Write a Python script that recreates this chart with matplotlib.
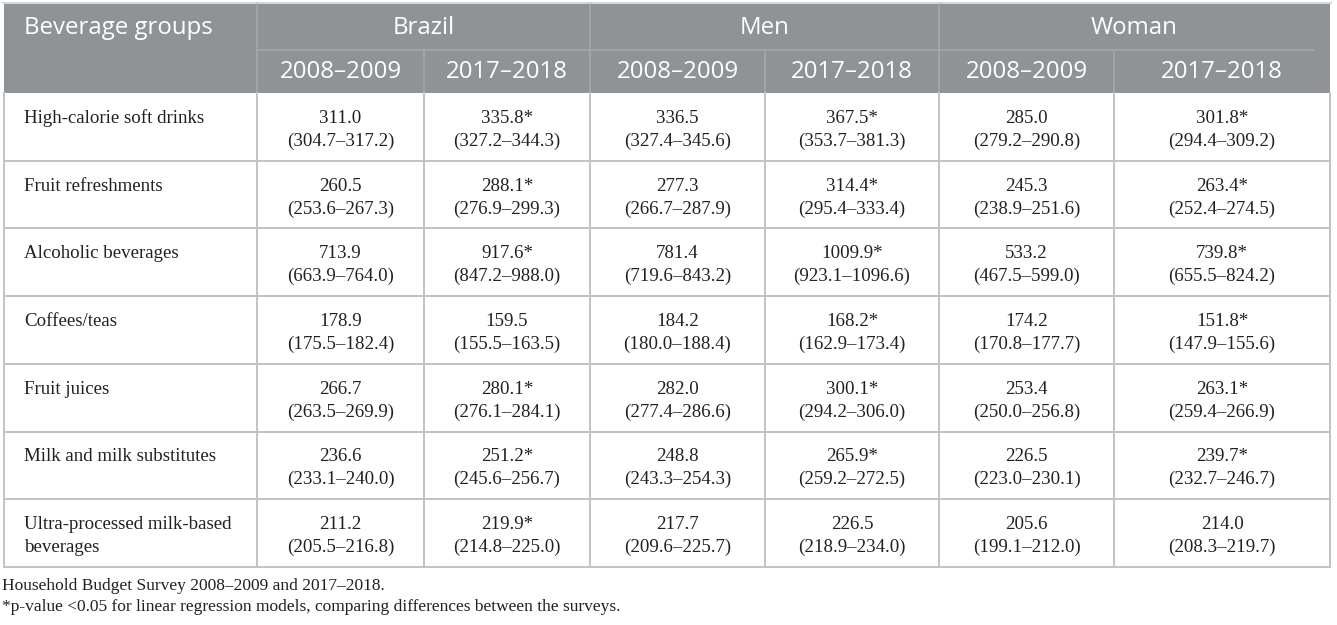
import matplotlib.pyplot as plt
from matplotlib.patches import Rectangle

# table content
groups = ['High-calorie soft drinks', 'Fruit refreshments', 'Alcoholic beverages',
          'Coffees/teas', 'Fruit juices', 'Milk and milk substitutes',
          'Ultra-processed milk-based\nbeverages']
populations = ['Brazil', 'Men', 'Woman']
periods = ['2008\u20132009', '2017\u20132018']

brazil_0809 = [311.0, 260.5, 713.9, 178.9, 266.7, 236.6, 211.2]
brazil_0809_lo = [304.7, 253.6, 663.9, 175.5, 263.5, 233.1, 205.5]
brazil_0809_hi = [317.2, 267.3, 764.0, 182.4, 269.9, 240.0, 216.8]
brazil_1718 = [335.8, 288.1, 917.6, 159.5, 280.1, 251.2, 219.9]
brazil_1718_lo = [327.2, 276.9, 847.2, 155.5, 276.1, 245.6, 214.8]
brazil_1718_hi = [344.3, 299.3, 988.0, 163.5, 284.1, 256.7, 225.0]
brazil_1718_sig = [1, 1, 1, 0, 1, 1, 1]

men_0809 = [336.5, 277.3, 781.4, 184.2, 282.0, 248.8, 217.7]
men_0809_lo = [327.4, 266.7, 719.6, 180.0, 277.4, 243.3, 209.6]
men_0809_hi = [345.6, 287.9, 843.2, 188.4, 286.6, 254.3, 225.7]
men_1718 = [367.5, 314.4, 1009.9, 168.2, 300.1, 265.9, 226.5]
men_1718_lo = [353.7, 295.4, 923.1, 162.9, 294.2, 259.2, 218.9]
men_1718_hi = [381.3, 333.4, 1096.6, 173.4, 306.0, 272.5, 234.0]
men_1718_sig = [1, 1, 1, 1, 1, 1, 0]

woman_0809 = [285.0, 245.3, 533.2, 174.2, 253.4, 226.5, 205.6]
woman_0809_lo = [279.2, 238.9, 467.5, 170.8, 250.0, 223.0, 199.1]
woman_0809_hi = [290.8, 251.6, 599.0, 177.7, 256.8, 230.1, 212.0]
woman_1718 = [301.8, 263.4, 739.8, 151.8, 263.1, 239.7, 214.0]
woman_1718_lo = [294.4, 252.4, 655.5, 147.9, 259.4, 232.7, 208.3]
woman_1718_hi = [309.2, 274.5, 824.2, 155.6, 266.9, 246.7, 219.7]
woman_1718_sig = [1, 1, 1, 1, 1, 1, 0]

no_sig = [0] * len(groups)

columns = [
    (brazil_0809, brazil_0809_lo, brazil_0809_hi, no_sig),
    (brazil_1718, brazil_1718_lo, brazil_1718_hi, brazil_1718_sig),
    (men_0809, men_0809_lo, men_0809_hi, no_sig),
    (men_1718, men_1718_lo, men_1718_hi, men_1718_sig),
    (woman_0809, woman_0809_lo, woman_0809_hi, no_sig),
    (woman_1718, woman_1718_lo, woman_1718_hi, woman_1718_sig),
]

footnotes = ['Household Budget Survey 2008\u20132009 and 2017\u20132018.',
             '*p-value <0.05 for linear regression models, comparing differences between the surveys.']

# layout in pixels
W, H = 1337, 625
col_edges = [4, 257, 424, 590, 765, 939, 1114, 1330]
head_top, head_mid, head_bot = 4, 50, 93
row_h = 67.7
row_edges = [head_bot + i * row_h for i in range(len(groups) + 1)]

head_color = '#8f9396'
head_line = '#a6aaad'
grid_color = '#c3c3c3'
text_color = '#231f20'
px = 0.72  # points per pixel at dpi 100

serif = 'Liberation Serif'
sans = 'Open Sans'
body_size = 13.6
head_size = 17.3

fig = plt.figure(figsize=(W / 100, H / 100), dpi=100)
ax = fig.add_axes([0, 0, 1, 1])
ax.set_xlim(0, W)
ax.set_ylim(H, 0)
ax.axis('off')

# header block
ax.add_patch(Rectangle((col_edges[0], head_top), col_edges[-1] - col_edges[0],
                       head_bot - head_top, color=head_color, lw=0))
ax.plot([col_edges[0] - 1, col_edges[-1] + 1], [head_top - 1, head_top - 1],
        color='#cddbd6', lw=2 * px)
ax.plot([col_edges[1], col_edges[-1] - 16], [head_mid, head_mid], color=head_line, lw=1.5 * px)
for i, x in enumerate(col_edges[1:-1]):
    top = head_top if i % 2 == 0 else head_mid
    ax.plot([x, x], [top, head_bot], color=head_line, lw=1.5 * px)

ax.text(24, (head_top + head_mid) / 2 + 1, 'Beverage groups', family=sans, fontsize=head_size,
        color='white', va='center', ha='left')
for i, name in enumerate(populations):
    xc = (col_edges[1 + 2 * i] + col_edges[3 + 2 * i]) / 2
    ax.text(xc, (head_top + head_mid) / 2 + 1, name, family=sans, fontsize=head_size,
            color='white', va='center', ha='center')
    for j, per in enumerate(periods):
        k = 1 + 2 * i + j
        xm = (col_edges[k] + col_edges[k + 1]) / 2
        ax.text(xm, (head_mid + head_bot) / 2 + 1, per, family=sans, fontsize=head_size,
                color='white', va='center', ha='center')

# body grid
for y in row_edges[1:]:
    ax.plot([col_edges[0], col_edges[-1]], [y, y], color=grid_color, lw=2 * px)
for x in col_edges:
    ax.plot([x, x], [head_bot, row_edges[-1]], color=grid_color, lw=2 * px)

# body text
for r, g in enumerate(groups):
    yc = (row_edges[r] + row_edges[r + 1]) / 2
    b1, b2 = yc - 4, yc + 19
    for li, line in enumerate(g.split('\n')):
        ax.text(24, b1 if li == 0 else b2, line, family=serif, fontsize=body_size,
                color=text_color, va='baseline', ha='left')
    for c, (mean, lo, hi, sig) in enumerate(columns):
        xm = (col_edges[c + 1] + col_edges[c + 2]) / 2
        star = '*' if sig[r] else ''
        ax.text(xm, b1, f'{mean[r]:.1f}{star}', family=serif, fontsize=body_size,
                color=text_color, va='baseline', ha='center')
        ax.text(xm, b2, f'({lo[r]:.1f}\u2013{hi[r]:.1f})', family=serif, fontsize=body_size,
                color=text_color, va='baseline', ha='center')

# footnotes
ax.text(2, row_edges[-1] + 19, footnotes[0], family=serif, fontsize=12.5,
        color=text_color, va='center', ha='left')
ax.text(2, row_edges[-1] + 40, footnotes[1], family=serif, fontsize=12.5,
        color=text_color, va='center', ha='left')

fig.savefig('out.png', dpi=100)
